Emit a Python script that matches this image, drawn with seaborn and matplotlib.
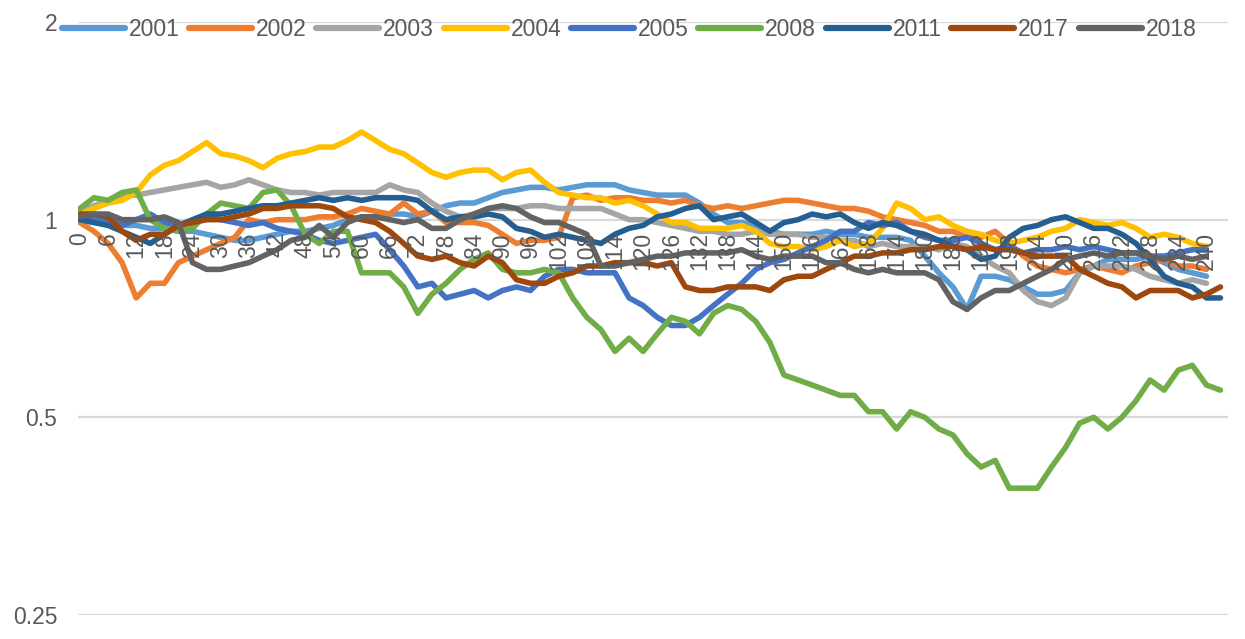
import numpy as np
import pandas as pd
import matplotlib
matplotlib.use("Agg")
import matplotlib.pyplot as plt
from matplotlib.lines import Line2D
from matplotlib.ticker import NullLocator
import seaborn as sns

# ---------------- data (value every 3 trading days, normalised to start) ----------------
years = ["2001", "2002", "2003", "2004", "2005", "2008", "2011", "2017", "2018"]
colors = ["#5B9BD5", "#ED7D31", "#A5A5A5", "#FFC000", "#4472C4",
          "#70AD47", "#255E91", "#9E480E", "#636363"]
step_days = 3

y2001 = [1.00, 0.99, 0.99, 0.98, 0.98, 0.97, 0.97, 0.96, 0.96, 0.95,
         0.94, 0.93, 0.93, 0.94, 0.95, 0.96, 0.96, 0.97, 0.98, 1.00,
         1.01, 1.01, 1.02, 1.02, 1.01, 1.03, 1.05, 1.06, 1.06, 1.08,
         1.10, 1.11, 1.12, 1.12, 1.11, 1.12, 1.13, 1.13, 1.13, 1.11,
         1.10, 1.09, 1.09, 1.09, 1.06, 1.02, 0.99, 0.99, 0.98, 0.96,
         0.95, 0.95, 0.95, 0.96, 0.95, 0.95, 0.94, 0.94, 0.94, 0.93,
         0.88, 0.83, 0.79, 0.73, 0.82, 0.82, 0.81, 0.79, 0.77, 0.77,
         0.78, 0.83, 0.85, 0.87, 0.87, 0.87, 0.88, 0.86, 0.84, 0.83,
         0.82]
y2002 = [0.99, 0.96, 0.92, 0.86, 0.76, 0.80, 0.80, 0.86, 0.88, 0.90,
         0.92, 0.94, 1.00, 0.99, 1.00, 1.00, 1.00, 1.01, 1.01, 1.02,
         1.04, 1.03, 1.02, 1.06, 1.02, 1.03, 0.99, 0.99, 0.99, 0.98,
         0.95, 0.92, 0.93, 0.93, 0.94, 1.08, 1.09, 1.07, 1.08, 1.08,
         1.07, 1.07, 1.06, 1.07, 1.05, 1.04, 1.05, 1.04, 1.05, 1.06,
         1.07, 1.07, 1.06, 1.05, 1.04, 1.04, 1.03, 1.01, 1.00, 0.99,
         0.98, 0.96, 0.96, 0.94, 0.94, 0.96, 0.92, 0.88, 0.85, 0.84,
         0.83, 0.84, 0.85, 0.84, 0.83, 0.85, 0.86, 0.87, 0.85, 0.85,
         0.84]
y2003 = [1.03, 1.05, 1.07, 1.09, 1.09, 1.10, 1.11, 1.12, 1.13, 1.14,
         1.12, 1.13, 1.15, 1.13, 1.11, 1.10, 1.10, 1.09, 1.10, 1.10,
         1.10, 1.10, 1.13, 1.11, 1.10, 1.06, 1.03, 1.01, 1.02, 1.04,
         1.04, 1.04, 1.05, 1.05, 1.04, 1.04, 1.04, 1.04, 1.02, 1.00,
         1.00, 0.99, 0.98, 0.97, 0.96, 0.96, 0.95, 0.95, 0.96, 0.95,
         0.95, 0.95, 0.94, 0.94, 0.93, 0.93, 0.91, 0.92, 0.91, 0.91,
         0.91, 0.90, 0.92, 0.91, 0.88, 0.85, 0.83, 0.78, 0.75, 0.74,
         0.76, 0.83, 0.85, 0.85, 0.85, 0.84, 0.82, 0.81, 0.80, 0.81,
         0.80]
y2004 = [1.02, 1.04, 1.06, 1.07, 1.10, 1.17, 1.21, 1.23, 1.27, 1.31,
         1.26, 1.25, 1.23, 1.20, 1.24, 1.26, 1.27, 1.29, 1.29, 1.32,
         1.36, 1.32, 1.28, 1.26, 1.22, 1.18, 1.16, 1.18, 1.19, 1.19,
         1.15, 1.18, 1.19, 1.14, 1.10, 1.09, 1.08, 1.08, 1.06, 1.07,
         1.05, 1.02, 0.99, 0.99, 0.97, 0.97, 0.97, 0.98, 0.96, 0.92,
         0.91, 0.91, 0.90, 0.91, 0.93, 0.91, 0.92, 0.97, 1.06, 1.04,
         1.00, 1.01, 0.98, 0.96, 0.95, 0.93, 0.92, 0.93, 0.94, 0.96,
         0.97, 1.00, 0.99, 0.98, 0.99, 0.97, 0.94, 0.95, 0.94, 0.92,
         0.91]
y2005 = [1.00, 1.01, 1.00, 0.98, 1.00, 1.02, 0.99, 0.98, 0.99, 1.01,
         1.00, 0.99, 0.98, 0.99, 0.97, 0.96, 0.95, 0.93, 0.92, 0.93,
         0.94, 0.95, 0.90, 0.85, 0.79, 0.80, 0.76, 0.77, 0.78, 0.76,
         0.78, 0.79, 0.78, 0.82, 0.84, 0.84, 0.83, 0.83, 0.83, 0.76,
         0.74, 0.71, 0.69, 0.69, 0.71, 0.74, 0.77, 0.80, 0.84, 0.86,
         0.87, 0.89, 0.91, 0.93, 0.96, 0.96, 0.99, 0.98, 0.99, 0.96,
         0.94, 0.93, 0.93, 0.94, 0.92, 0.90, 0.91, 0.89, 0.90, 0.90,
         0.91, 0.90, 0.91, 0.90, 0.89, 0.89, 0.88, 0.88, 0.89, 0.90,
         0.90]
y2008 = [1.04, 1.08, 1.07, 1.10, 1.11, 1.00, 0.97, 0.96, 0.97, 1.02,
         1.06, 1.05, 1.04, 1.10, 1.11, 1.05, 0.95, 0.92, 0.96, 0.96,
         0.83, 0.83, 0.83, 0.79, 0.72, 0.77, 0.80, 0.84, 0.87, 0.89,
         0.84, 0.83, 0.83, 0.84, 0.83, 0.76, 0.71, 0.68, 0.63, 0.66,
         0.63, 0.67, 0.71, 0.70, 0.67, 0.72, 0.74, 0.73, 0.70, 0.65,
         0.58, 0.57, 0.56, 0.55, 0.54, 0.54, 0.51, 0.51, 0.48, 0.51,
         0.50, 0.48, 0.47, 0.44, 0.42, 0.43, 0.39, 0.39, 0.39, 0.42,
         0.45, 0.49, 0.50, 0.48, 0.50, 0.53, 0.57, 0.55, 0.59, 0.60,
         0.56, 0.55]
y2011 = [1.00, 0.99, 0.98, 0.96, 0.94, 0.92, 0.95, 0.98, 1.00, 1.02,
         1.02, 1.03, 1.04, 1.05, 1.05, 1.06, 1.07, 1.08, 1.07, 1.08,
         1.07, 1.08, 1.08, 1.08, 1.07, 1.03, 1.00, 1.01, 1.01, 1.02,
         1.01, 0.97, 0.96, 0.94, 0.95, 0.94, 0.93, 0.92, 0.95, 0.97,
         0.98, 1.01, 1.02, 1.04, 1.05, 1.00, 1.01, 1.02, 0.99, 0.96,
         0.99, 1.00, 1.02, 1.01, 1.02, 0.99, 0.97, 0.99, 0.98, 0.96,
         0.95, 0.93, 0.91, 0.90, 0.87, 0.88, 0.94, 0.97, 0.98, 1.00,
         1.01, 0.99, 0.97, 0.97, 0.95, 0.92, 0.87, 0.82, 0.80, 0.79,
         0.76, 0.76]
y2017 = [1.02, 1.02, 1.01, 0.96, 0.93, 0.95, 0.95, 0.98, 0.99, 1.00,
         1.00, 1.01, 1.02, 1.04, 1.04, 1.05, 1.05, 1.05, 1.04, 1.01,
         1.00, 0.99, 0.96, 0.92, 0.88, 0.87, 0.88, 0.86, 0.85, 0.88,
         0.86, 0.81, 0.80, 0.80, 0.82, 0.83, 0.85, 0.85, 0.86, 0.86,
         0.86, 0.85, 0.86, 0.79, 0.78, 0.78, 0.79, 0.79, 0.79, 0.78,
         0.81, 0.82, 0.82, 0.84, 0.86, 0.88, 0.88, 0.89, 0.89, 0.90,
         0.90, 0.91, 0.91, 0.90, 0.91, 0.90, 0.90, 0.89, 0.88, 0.88,
         0.88, 0.84, 0.82, 0.80, 0.79, 0.76, 0.78, 0.78, 0.78, 0.76,
         0.77, 0.79]
y2018 = [1.01, 1.02, 1.02, 1.00, 1.00, 1.00, 1.01, 0.99, 0.86, 0.84,
         0.84, 0.85, 0.86, 0.88, 0.90, 0.93, 0.94, 0.98, 0.94, 0.99,
         1.01, 1.01, 1.00, 0.99, 1.00, 0.97, 0.97, 1.00, 1.02, 1.04,
         1.05, 1.04, 1.01, 0.99, 0.99, 0.97, 0.95, 0.85, 0.85, 0.86,
         0.87, 0.88, 0.88, 0.89, 0.89, 0.89, 0.89, 0.90, 0.88, 0.87,
         0.88, 0.88, 0.88, 0.86, 0.86, 0.84, 0.83, 0.84, 0.83, 0.83,
         0.83, 0.81, 0.75, 0.73, 0.76, 0.78, 0.78, 0.80, 0.82, 0.84,
         0.87, 0.88, 0.89, 0.88, 0.89, 0.89, 0.88, 0.87, 0.88, 0.87,
         0.88]

tick_days = list(range(0, 241, 6))
tick_labels = [str(d) for d in tick_days]

series = [y2001, y2002, y2003, y2004, y2005, y2008, y2011, y2017, y2018]

# ---------------- long table for seaborn ----------------
frames = []
for yr, vals in zip(years, series):
    frames.append(pd.DataFrame({
        "day": np.arange(len(vals)) * step_days,
        "value": vals,
        "year": yr,
    }))
df = pd.concat(frames, ignore_index=True)
palette = dict(zip(years, colors))

# ---------------- figure ----------------
sns.set_style("white")
plt.rcParams["font.family"] = ["Liberation Sans", "DejaVu Sans"]

W, H = 1245, 639
fig = plt.figure(figsize=(W / 100, H / 100), dpi=100)
left, right, top, bottom = 78, 1228, 22, 615
ax = fig.add_axes([left / W, 1 - bottom / H, (right - left) / W, (bottom - top) / H])

sns.lineplot(data=df, x="day", y="value", hue="year", hue_order=years,
             palette=palette, linewidth=4.0, estimator=None, sort=False,
             legend=False, ax=ax, solid_joinstyle="round", solid_capstyle="round")

ax.set_yscale("log", base=2)
ax.set_ylim(0.25, 2)
ax.set_xlim(-0.4, 244.6)
ax.set_yticks([0.25, 0.5, 1, 2])
ax.set_yticklabels(["0.25", "0.5", "1", "2"])
ax.yaxis.set_minor_locator(NullLocator())
ax.set_xticks(tick_days)
ax.set_xticklabels(tick_labels)
ax.set_xlabel("")
ax.set_ylabel("")

for s in ax.spines.values():
    s.set_visible(False)
ax.spines["bottom"].set_position(("data", 1))

ax.tick_params(axis="x", length=0, pad=9, labelsize=16.5, labelcolor="#595959",
               labelrotation=90)
ax.tick_params(axis="y", length=0, pad=15, labelsize=16.5, labelcolor="#595959")
ax.grid(axis="y", color="#D9D9D9", linewidth=1.6)
ax.grid(axis="x", visible=False)
ax.set_axisbelow(True)
ax.xaxis.set_zorder(5)

handles = [Line2D([0], [0], color=palette[y], lw=4.5, solid_capstyle="round") for y in years]
fig.legend(handles, years, loc="center", bbox_to_anchor=(629 / W, 1 - 30 / H),
           ncol=9, frameon=False, fontsize=16.5, handlelength=2.75,
           handletextpad=0.17, columnspacing=0.42, labelcolor="#595959",
           borderpad=0, borderaxespad=0)

fig.savefig("out.png", dpi=100)
